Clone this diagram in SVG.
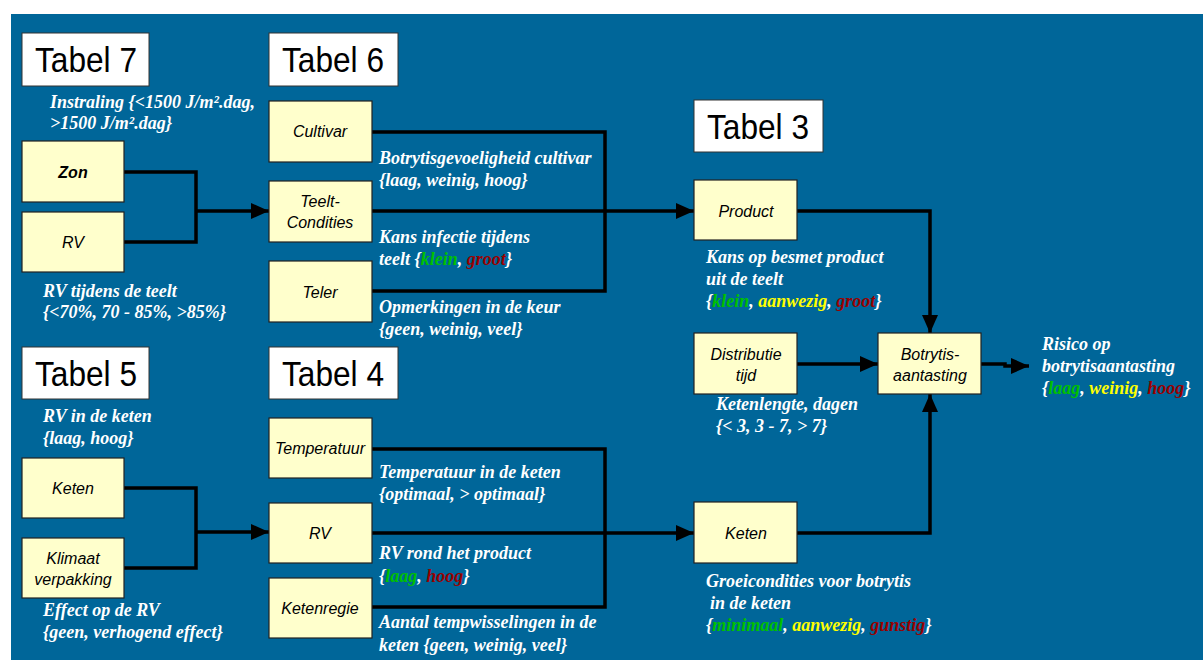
<svg xmlns="http://www.w3.org/2000/svg" width="1203" height="660" viewBox="0 0 1203 660">
<defs>
<marker id="ah" markerWidth="18" markerHeight="16" refX="18" refY="8" orient="auto" markerUnits="userSpaceOnUse">
<path d="M0,0 L18,8 L0,16 Z" fill="#000"/>
</marker>
<style>
.tab{fill:#fff;stroke:#333;stroke-width:1}
.tabt{font-family:"Liberation Sans",Arial,sans-serif;font-size:35px;fill:#000}
.nd{fill:#FFFFCC;stroke:#222;stroke-width:1.2}
.nt{font-family:"Liberation Sans",Arial,sans-serif;font-size:16px;font-style:italic;fill:#000;text-anchor:middle}
.ds{font-family:"Liberation Serif","Times New Roman",serif;font-size:18px;font-style:italic;font-weight:bold;fill:#fff}
.ln{fill:none;stroke:#000;stroke-width:3.5}
.g{fill:#00C000}.y{fill:#FFFF00}.r{fill:#990000}
</style>
</defs>
<rect x="0" y="0" width="1203" height="660" fill="#fff"/>
<rect x="11" y="14" width="1192" height="646" fill="#006699"/>

<g id="tabel7"><rect class="tab" x="22" y="33" width="127" height="53"/><text class="tabt" x="35" y="72" textLength="102" lengthAdjust="spacingAndGlyphs">Tabel 7</text></g>
<g id="tabel6"><rect class="tab" x="269" y="33" width="129" height="53"/><text class="tabt" x="282" y="72" textLength="102" lengthAdjust="spacingAndGlyphs">Tabel 6</text></g>
<g id="tabel3"><rect class="tab" x="694" y="100" width="129" height="52"/><text class="tabt" x="707" y="139" textLength="102" lengthAdjust="spacingAndGlyphs">Tabel 3</text></g>
<g id="tabel5"><rect class="tab" x="22" y="347" width="127" height="52"/><text class="tabt" x="35" y="386" textLength="102" lengthAdjust="spacingAndGlyphs">Tabel 5</text></g>
<g id="tabel4"><rect class="tab" x="269" y="347" width="129" height="52"/><text class="tabt" x="282" y="386" textLength="102" lengthAdjust="spacingAndGlyphs">Tabel 4</text></g>

<g id="connectors">
<polyline class="ln" points="124,172 196,172 196,242 124,242"/>
<line class="ln" x1="196" y1="211" x2="269" y2="211" marker-end="url(#ah)"/>
<polyline class="ln" points="372,132 605,132 605,291 372,291"/>
<line class="ln" x1="372" y1="211" x2="694" y2="211" marker-end="url(#ah)"/>
<polyline class="ln" points="797,211 930,211 930,333" marker-end="url(#ah)"/>
<line class="ln" x1="797" y1="364" x2="878" y2="364" marker-end="url(#ah)"/>
<polyline class="ln" points="797,533 930,533 930,394" marker-end="url(#ah)"/>
<polyline class="ln" points="981,364 1005,364 1005,366 1029,366" marker-end="url(#ah)"/>
<polyline class="ln" points="124,488 196,488 196,568 124,568"/>
<line class="ln" x1="196" y1="532" x2="269" y2="532" marker-end="url(#ah)"/>
<polyline class="ln" points="372,449 605,449 605,607 372,607"/>
<line class="ln" x1="372" y1="533" x2="694" y2="533" marker-end="url(#ah)"/>
</g>

<g id="zon"><rect class="nd" x="22" y="141" width="102" height="61"/><text class="nt" x="73" y="178" font-weight="bold">Zon</text></g>
<g id="rv1"><rect class="nd" x="22" y="212" width="102" height="60"/><text class="nt" x="73" y="248">RV</text></g>
<g id="cultivar"><rect class="nd" x="269" y="101" width="103" height="61"/><text class="nt" x="320" y="137">Cultivar</text></g>
<g id="teelt"><rect class="nd" x="269" y="181" width="103" height="61"/><text class="nt" x="320" y="207">Teelt-</text><text class="nt" x="320" y="228">Condities</text></g>
<g id="teler"><rect class="nd" x="269" y="261" width="103" height="61"/><text class="nt" x="320" y="298">Teler</text></g>
<g id="product"><rect class="nd" x="694" y="180" width="103" height="60"/><text class="nt" x="746" y="217">Product</text></g>
<g id="distributie"><rect class="nd" x="694" y="333" width="103" height="61"/><text class="nt" x="746" y="360">Distributie</text><text class="nt" x="746" y="381">tijd</text></g>
<g id="botrytis"><rect class="nd" x="878" y="333" width="103" height="61"/><text class="nt" x="930" y="360">Botrytis-</text><text class="nt" x="930" y="381">aantasting</text></g>
<g id="keten2"><rect class="nd" x="694" y="502" width="103" height="61"/><text class="nt" x="746" y="539">Keten</text></g>
<g id="keten1"><rect class="nd" x="22" y="458" width="102" height="60"/><text class="nt" x="73" y="494">Keten</text></g>
<g id="klimaat"><rect class="nd" x="22" y="538" width="102" height="60"/><text class="nt" x="73" y="564">Klimaat</text><text class="nt" x="73" y="585">verpakking</text></g>
<g id="temperatuur"><rect class="nd" x="269" y="418" width="103" height="60"/><text class="nt" x="320" y="454">Temperatuur</text></g>
<g id="rv2"><rect class="nd" x="269" y="503" width="103" height="60"/><text class="nt" x="320" y="539">RV</text></g>
<g id="ketenregie"><rect class="nd" x="269" y="578" width="103" height="60"/><text class="nt" x="320" y="614">Ketenregie</text></g>

<g id="labels">
<text class="ds" x="50" y="108">Instraling {&lt;1500 J/m².dag,</text>
<text class="ds" x="50" y="129">&gt;1500 J/m².dag}</text>
<text class="ds" x="43" y="297">RV tijdens de teelt</text>
<text class="ds" x="43" y="318">{&lt;70%, 70 - 85%, &gt;85%}</text>
<text class="ds" x="379" y="164">Botrytisgevoeligheid cultivar</text>
<text class="ds" x="379" y="186">{laag, weinig, hoog}</text>
<text class="ds" x="379" y="243">Kans infectie tijdens</text>
<text class="ds" x="379" y="265">teelt {<tspan class="g">klein</tspan>, <tspan class="r">groot</tspan>}</text>
<text class="ds" x="379" y="313">Opmerkingen in de keur</text>
<text class="ds" x="379" y="335">{geen, weinig, veel}</text>
<text class="ds" x="706" y="263">Kans op besmet product</text>
<text class="ds" x="706" y="285">uit de teelt</text>
<text class="ds" x="706" y="307">{<tspan class="g">klein</tspan>, <tspan class="y">aanwezig</tspan>, <tspan class="r">groot</tspan>}</text>
<text class="ds" x="716" y="410">Ketenlengte, dagen</text>
<text class="ds" x="716" y="432">{&lt; 3, 3 - 7, &gt; 7}</text>
<text class="ds" x="1042" y="350">Risico op</text>
<text class="ds" x="1042" y="372">botrytisaantasting</text>
<text class="ds" x="1042" y="394">{<tspan class="g">laag</tspan>, <tspan class="y">weinig</tspan>, <tspan class="r">hoog</tspan>}</text>
<text class="ds" x="43" y="422">RV in de keten</text>
<text class="ds" x="43" y="444">{laag, hoog}</text>
<text class="ds" x="43" y="616">Effect op de RV</text>
<text class="ds" x="43" y="638">{geen, verhogend effect}</text>
<text class="ds" x="379" y="478">Temperatuur in de keten</text>
<text class="ds" x="379" y="500">{optimaal, &gt; optimaal}</text>
<text class="ds" x="379" y="559">RV rond het product</text>
<text class="ds" x="379" y="582">{<tspan class="g">laag</tspan>, <tspan class="r">hoog</tspan>}</text>
<text class="ds" x="379" y="628">Aantal tempwisselingen in de</text>
<text class="ds" x="379" y="651">keten {geen, weinig, veel}</text>
<text class="ds" x="706" y="587">Groeicondities voor botrytis</text>
<text class="ds" x="710" y="609">in de keten</text>
<text class="ds" x="706" y="631">{<tspan class="g">minimaal</tspan>, <tspan class="y">aanwezig</tspan>, <tspan class="r">gunstig</tspan>}</text>
</g>
</svg>
